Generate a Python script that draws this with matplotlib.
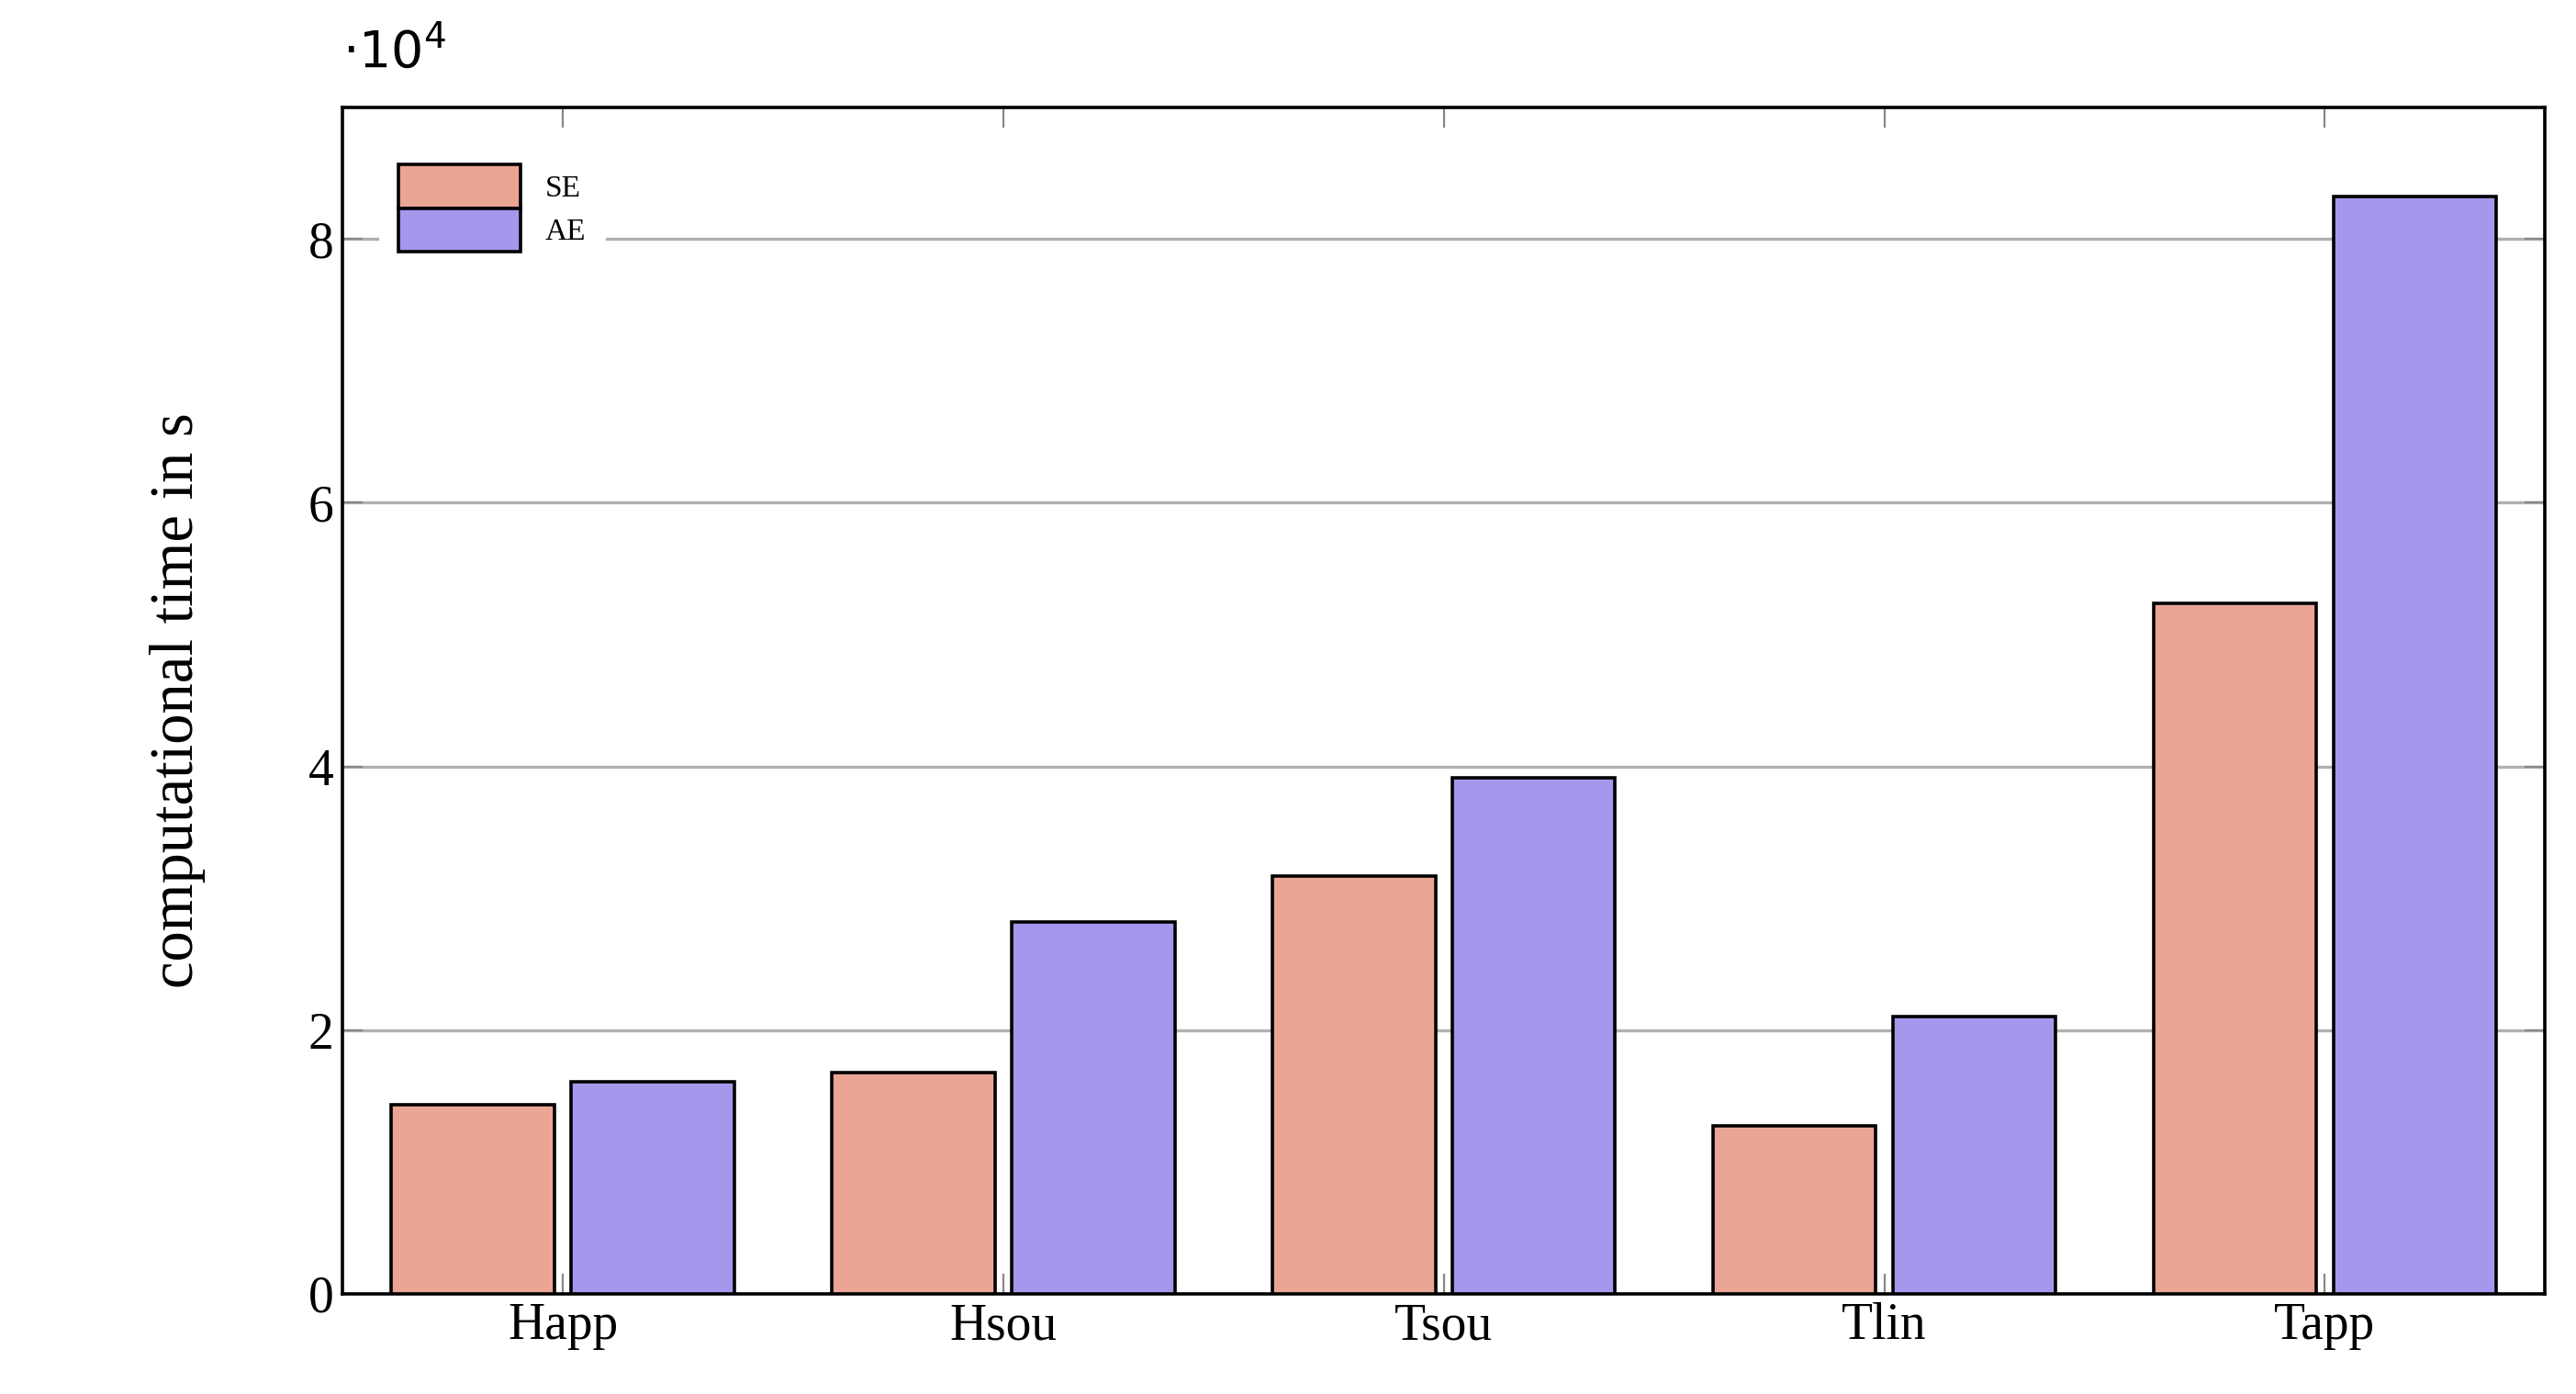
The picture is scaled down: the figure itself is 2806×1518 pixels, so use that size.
import matplotlib
matplotlib.use("Agg")
import matplotlib.pyplot as plt
import numpy as np

categories = ["Happ", "Hsou", "Tsou", "Tlin", "Tapp"]
se_values = [1.43e4, 1.68e4, 3.17e4, 1.27e4, 5.24e4]
ae_values = [1.61e4, 2.82e4, 3.91e4, 2.10e4, 8.32e4]

plt.rcParams['font.family'] = ['Liberation Serif', 'DejaVu Serif']
fig = plt.figure(figsize=(14.03, 7.59), dpi=200)
ax = fig.add_axes([0.133, 0.072, 0.855, 0.851])
x = np.arange(len(categories))
w = 0.37
ax.bar(x - 0.204, se_values, w, color="#EBA594", edgecolor="black", linewidth=1.3, label="SE", zorder=3)
ax.bar(x + 0.204, ae_values, w, color="#A597EC", edgecolor="black", linewidth=1.3, label="AE", zorder=3)
ax.set_xlim(-0.5, 4.5)
ax.set_ylim(0, 9.0e4)
ax.set_xticks(x)
ax.set_xticklabels(categories)
ax.set_yticks([0, 2e4, 4e4, 6e4, 8e4])
ax.set_yticklabels(["0", "2", "4", "6", "8"])
ax.yaxis.grid(True, color="#b0b0b0", linewidth=1.2, zorder=0)
ax.tick_params(direction="in", top=True, right=True, labelsize=20, length=8, color="#888888")
for s in ax.spines.values():
    s.set_linewidth(1.3)
ax.set_ylabel("computational time in s", fontsize=24, labelpad=40)
ax.text(0.0, 1.025, r"$\cdot10^4$", transform=ax.transAxes, fontsize=20, ha="left", va="bottom")
leg = ax.legend(loc="upper left", bbox_to_anchor=(0.01, 0.98), fontsize=12, frameon=True,
                fancybox=False, edgecolor="white", framealpha=1, handlelength=4.0, handleheight=1.8,
                labelspacing=0.0, borderpad=0.6)
fig.savefig("out.png", dpi=200)
